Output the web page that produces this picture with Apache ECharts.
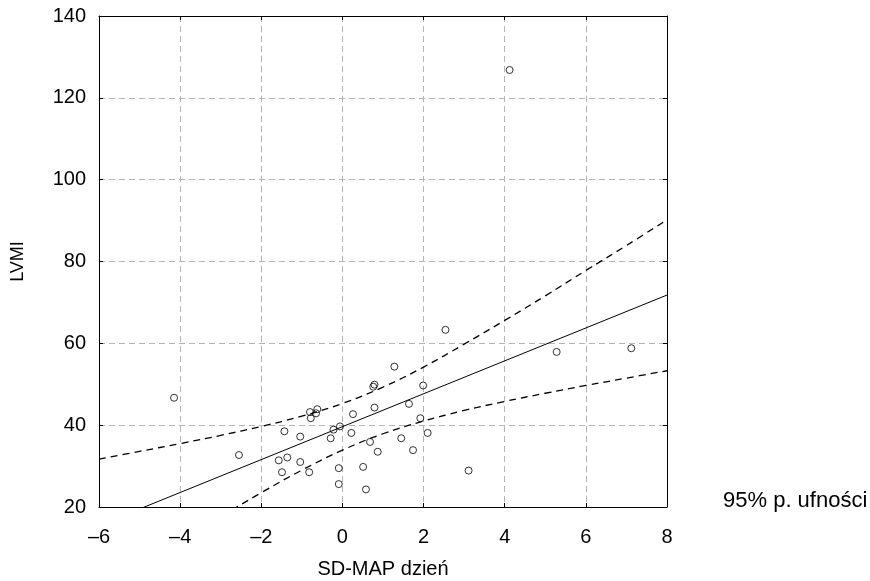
<!DOCTYPE html>
<html>
<head>
<meta charset="utf-8">
<script src="https://cdn.jsdelivr.net/npm/echarts@6/dist/echarts.min.js"></script>
<style>html,body{margin:0;padding:0;background:#fff;}#c{width:870px;height:581px;}</style>
</head>
<body>
<div id="c"></div>
<script>
// Scatter points: SD-MAP dzień (x) vs LVMI (y)
var pointsX = [4.12, 2.54, 5.28, 7.12, -4.15, -2.55, 1.28, 0.76, 0.79, 1.99, 0.26, 0.79, 1.64, 1.92, -0.06, -0.22, -0.29, 0.22, 0.68, 0.87, 1.45, 1.74, 2.10, -0.09, 0.51, -1.43, -1.04, -1.57, -1.36, -1.04, -1.49, -0.82, -0.09, 0.58, 3.11, -0.80, -0.62, -0.65, -0.78];
var pointsY = [126.8, 63.3, 57.9, 58.8, 46.7, 32.7, 54.3, 49.4, 49.9, 49.7, 42.7, 44.3, 45.2, 41.7, 39.7, 38.9, 36.8, 38.1, 35.9, 33.5, 36.8, 33.9, 38.1, 29.5, 29.8, 38.5, 37.2, 31.4, 32.1, 31.0, 28.5, 28.5, 25.6, 24.3, 28.9, 43.2, 43.9, 42.9, 41.7];
// Regression line endpoints
var fitX = [-6, 8];
var fitY = [15.5, 71.8];
// 95% confidence band
var bandX = [-6, -5, -4, -3, -2, -1, 0, 1, 2, 3, 4, 5, 6, 7, 8];
var bandUpper = [31.7, 33.6, 35.5, 37.5, 39.7, 42.2, 45.3, 49.3, 54.2, 59.8, 65.6, 71.6, 77.8, 83.9, 90.2];
var bandLower = [-0.7, 5.5, 11.6, 17.6, 23.5, 29.0, 33.9, 37.9, 41.0, 43.6, 45.8, 47.8, 49.7, 51.5, 53.3];
var xTicks = [-6, -4, -2, 0, 2, 4, 6, 8];
var yTicks = [20, 40, 60, 80, 100, 120, 140];
var xName = 'SD-MAP dzień';
var yName = 'LVMI';
var bandName = '95% p. ufności';

function zip(a, b) { return a.map(function (v, i) { return [v, b[i]]; }); }
function fmt(v) { return String(v).replace('-', '\u2013'); }

var FONT = 'Liberation Sans, Arial, sans-serif';
var chart = echarts.init(document.getElementById('c'), null, {renderer: 'canvas'});
var gridLine = {show: true, lineStyle: {color: '#b4b4b4', type: [6, 4], width: 1}};
chart.setOption({
  animation: false,
  backgroundColor: '#fff',
  grid: {left: 99, top: 16, right: 203, bottom: 74, containLabel: false, outerBoundsMode: 'none'},
  legend: {
    data: [{name: bandName, icon: 'none'}],
    left: 713, top: 485, itemWidth: 0, itemHeight: 0, itemGap: 0,
    textStyle: {fontFamily: FONT, fontSize: 22, color: '#000'}
  },
  xAxis: [{
    type: 'value', min: xTicks[0], max: xTicks[xTicks.length - 1], interval: 2,
    name: xName, nameLocation: 'middle', nameGap: 52,
    nameTextStyle: {fontFamily: FONT, fontSize: 20, color: '#000'},
    axisLine: {show: true, onZero: false, lineStyle: {color: '#000', width: 1}},
    axisTick: {show: true, inside: true, length: 4, lineStyle: {color: '#000'}},
    axisLabel: {fontFamily: FONT, fontSize: 20, color: '#000', margin: 20, formatter: fmt},
    splitLine: gridLine
  }, {
    type: 'value', position: 'top', min: xTicks[0], max: xTicks[xTicks.length - 1], interval: 2,
    axisLine: {show: true, onZero: false, lineStyle: {color: '#000', width: 1}},
    axisTick: {show: true, inside: true, length: 4, lineStyle: {color: '#000'}},
    axisLabel: {show: false}, splitLine: {show: false}
  }],
  yAxis: [{
    type: 'value', min: yTicks[0], max: yTicks[yTicks.length - 1], interval: 20,
    name: yName, nameLocation: 'middle', nameGap: 72, nameRotate: 90,
    nameTextStyle: {fontFamily: FONT, fontSize: 18, color: '#000'},
    axisLine: {show: true, onZero: false, lineStyle: {color: '#000', width: 1}},
    axisTick: {show: true, inside: true, length: 4, lineStyle: {color: '#000'}},
    axisLabel: {fontFamily: FONT, fontSize: 20, color: '#000', margin: 13, formatter: fmt},
    splitLine: gridLine
  }, {
    type: 'value', position: 'right', min: yTicks[0], max: yTicks[yTicks.length - 1], interval: 20,
    axisLine: {show: true, onZero: false, lineStyle: {color: '#000', width: 1}},
    axisTick: {show: true, inside: true, length: 4, lineStyle: {color: '#000'}},
    axisLabel: {show: false}, splitLine: {show: false}
  }],
  series: [
    {
      name: 'fit', type: 'line', data: zip(fitX, fitY), showSymbol: false, clip: true,
      lineStyle: {color: '#000', width: 1}, silent: true, z: 3
    },
    {
      name: bandName, type: 'line', data: zip(bandX, bandUpper), showSymbol: false, smooth: 0.4, clip: true,
      lineStyle: {color: '#000', width: 1.3, type: [7, 5]}, itemStyle: {color: '#000'}, silent: true, z: 3
    },
    {
      name: bandName, type: 'line', data: zip(bandX, bandLower), showSymbol: false, smooth: 0.4, clip: true,
      lineStyle: {color: '#000', width: 1.3, type: [7, 5]}, itemStyle: {color: '#000'}, silent: true, z: 3
    },
    {
      name: 'points', type: 'scatter', data: zip(pointsX, pointsY), symbol: 'circle', symbolSize: 7,
      itemStyle: {color: 'rgba(255,255,255,0)', borderColor: '#000', borderWidth: 1}, z: 4
    }
  ]
});
</script>
</body>
</html>
